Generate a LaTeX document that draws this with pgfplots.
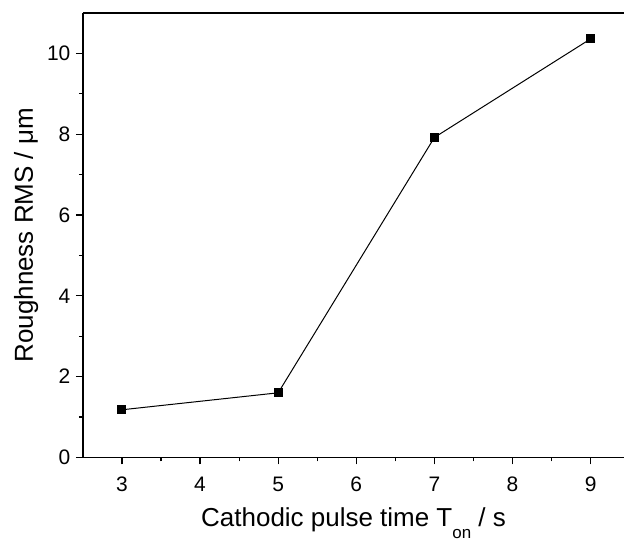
\documentclass[border=0pt]{standalone}
\usepackage{fontspec}
\setmainfont{Liberation Sans}
\usepackage{pgfplots}
\pgfplotsset{compat=1.18}
\begin{document}
\begin{tikzpicture}
\begin{axis}[
  scale only axis, width=542pt, height=445pt,
  xmin=2.5, xmax=9.43, ymin=0, ymax=11,
  axis x line*=box, axis y line*=left,
  xtick={3,4,5,6,7,8,9}, minor x tick num=1,
  ytick={0,2,4,6,8,10}, minor y tick num=1,
  xtick pos=bottom, ytick pos=left,
  tick align=outside,
  major tick length=7pt, minor tick length=4pt,
  every tick/.style={black, line width=1.2pt},
  axis line style={line width=1.5pt},
  ticklabel style={font=\fontsize{21}{25}\selectfont},
  xticklabel style={yshift=-9pt},
  yticklabel style={xshift=-2pt},
  /pgf/number format/assume math mode=true,
  label style={font=\fontsize{26}{30}\selectfont},
  xlabel={Cathodic pulse time T\raisebox{-0.45em}{\fontsize{17}{17}\selectfont on} / s},
  xlabel style={yshift=-9pt},
  ylabel={Roughness RMS / μm},
  ylabel style={yshift=2pt},
  clip=false,
]
\addplot[black, line width=1pt, mark=square*, mark size=4pt, mark options={solid}]
  coordinates {(3,1.18)(5,1.6)(7,7.92)(9,10.36)};
\path ([shift={(-83pt,-76pt)}]rel axis cs:0,0) rectangle ([shift={(0pt,13pt)}]rel axis cs:1,1);
\end{axis}
\end{tikzpicture}
\end{document}
